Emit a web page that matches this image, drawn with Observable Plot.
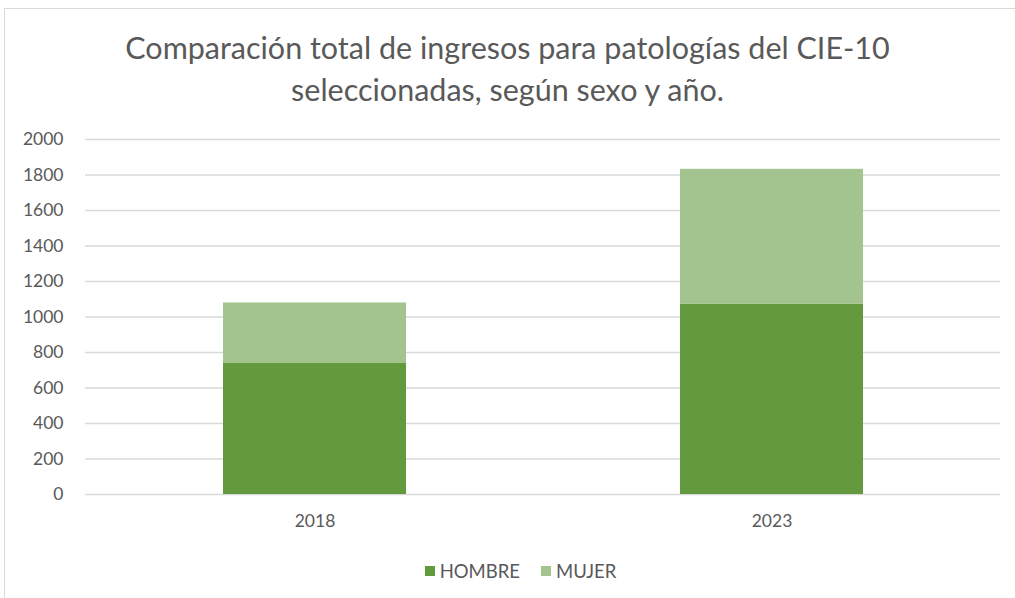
<!DOCTYPE html>
<html>
<head>
<meta charset="utf-8">
<script src="https://cdn.jsdelivr.net/npm/d3@7"></script>
<script src="https://cdn.jsdelivr.net/npm/@observablehq/plot@0.6"></script>
<style>
  html, body { margin: 0; padding: 0; background: #fff; }
  body { width: 1015px; height: 598px; position: relative; overflow: hidden; font-family: Lato, "Open Sans", sans-serif; }
  #frame { position: absolute; left: 4px; top: 8px; width: 1020px; height: 600px; border: 1px solid #d9d9d9; box-sizing: border-box; }
  #title { position: absolute; left: 0; width: 1015px; top: 26px; text-align: center; color: #595959; font-size: 30.5px; line-height: 42px; }
  #chart { position: absolute; left: 0; top: 125px; }
  #legend { position: absolute; top: 560px; left: 0; width: 1015px; display: flex; justify-content: center; gap: 21px; font-size: 18.5px; color: #595959; padding-left: 26px; box-sizing: border-box; }
  #legend span.item { display: flex; align-items: center; gap: 5px; }
  #legend span.sw { width: 10px; height: 10px; display: inline-block; }
</style>
</head>
<body>
<div id="frame"></div>
<div id="title">Comparación total de ingresos para patologías del CIE-10<br>seleccionadas, según sexo y año.</div>
<div id="chart"></div>
<div id="legend"></div>
<script>
const years = ["2018", "2023"];
const series = ["HOMBRE", "MUJER"];
const hombre = [738, 1073];
const mujer = [341, 759];
const colors = ["#629a3d", "#a3c48f"];
const yTicks = [0, 200, 400, 600, 800, 1000, 1200, 1400, 1600, 1800, 2000];

const data = [];
years.forEach((y, i) => {
  data.push({year: y, sexo: series[0], value: hombre[i]});
  data.push({year: y, sexo: series[1], value: mujer[i]});
});

const plot = Plot.plot({
  width: 1015,
  height: 420,
  marginLeft: 85,
  marginRight: 15,
  marginTop: 14,
  marginBottom: 51,
  style: {fontFamily: "Lato, 'Open Sans', sans-serif", fontSize: "17.5px", color: "#595959", background: "transparent"},
  x: {domain: years, padding: 0, label: null, tickSize: 0, tickPadding: 20},
  y: {domain: [0, 2000], ticks: yTicks, label: null, tickSize: 0, tickPadding: 22, tickFormat: d => String(d)},
  color: {domain: series, range: colors},
  marks: [
    Plot.gridY(yTicks, {stroke: "#d9d9d9", strokeOpacity: 1, strokeWidth: 1.3}),
    Plot.barY(data, {x: "year", y: "value", fill: "sexo", insetLeft: 137, insetRight: 137, order: series}),
    Plot.axisY({ticks: yTicks, tickSize: 0, tickPadding: 22, tickFormat: d => String(d), label: null, fill: "#595959"}),
    Plot.axisX({tickSize: 0, tickPadding: 20, label: null, fill: "#595959"})
  ]
});
document.getElementById("chart").appendChild(plot);

const legend = document.getElementById("legend");
series.forEach((s, i) => {
  const item = document.createElement("span");
  item.className = "item";
  const sw = document.createElement("span");
  sw.className = "sw";
  sw.style.background = colors[i];
  item.appendChild(sw);
  item.appendChild(document.createTextNode(s));
  legend.appendChild(item);
});
</script>
</body>
</html>
